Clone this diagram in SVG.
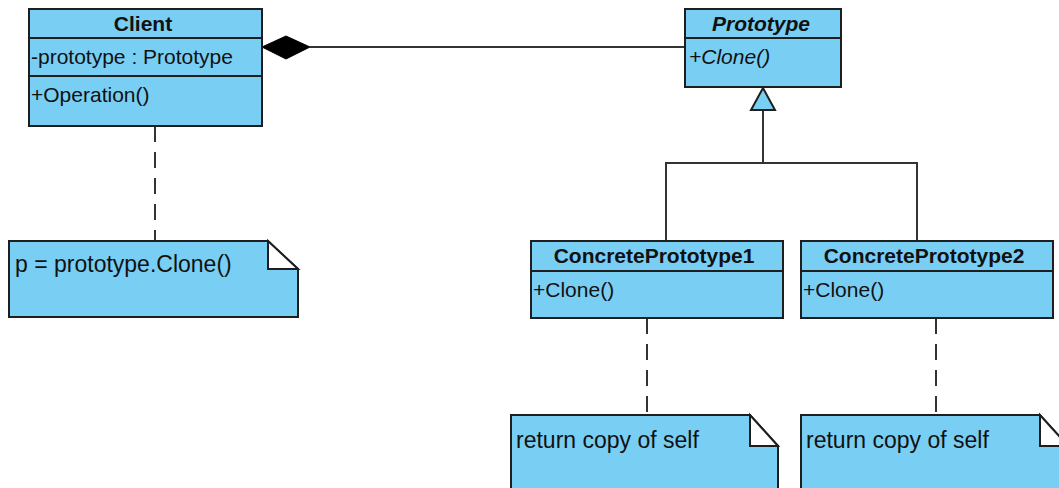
<svg xmlns="http://www.w3.org/2000/svg" width="1059" height="488" viewBox="0 0 1059 488">
<style>
.box{fill:#79CEF4;stroke:#1e1e1e;stroke-width:2}
.fold{fill:#ffffff;stroke:#1e1e1e;stroke-width:2;stroke-linejoin:miter}
.sep{stroke:#1e1e1e;stroke-width:2}
.t{font-family:"Liberation Sans",Arial,sans-serif;font-size:21px;fill:#111}
.b{font-weight:bold}
.i{font-style:italic}
.n{font-family:"Liberation Sans",Arial,sans-serif;font-size:23px;fill:#111}
.line{fill:none;stroke:#333;stroke-width:2}
.dash{fill:none;stroke:#333;stroke-width:2;stroke-dasharray:16 10}
</style>
<rect width="1059" height="488" fill="#ffffff"/>
<g id="connectors">
  <line class="line" x1="310" y1="47" x2="685" y2="47"/>
  <polygon points="262,47 286,36 310,47 286,59" fill="#000" stroke="#000" stroke-width="1"/>
  <polyline class="line" points="763,110 763,163"/>
  <polyline class="line" points="666,241 666,163 917,163 917,241"/>
  <polygon points="763,88 751,110 775,110" fill="#79CEF4" stroke="#1e1e1e" stroke-width="2"/>
  <line class="dash" x1="155" y1="126" x2="155" y2="241"/>
  <line class="dash" x1="647" y1="318" x2="647" y2="415"/>
  <line class="dash" x1="936" y1="318" x2="936" y2="415"/>
</g>
<g id="client">
  <rect class="box" x="29" y="9" width="233" height="117"/>
  <line class="sep" x1="29" y1="38" x2="262" y2="38"/>
  <line class="sep" x1="29" y1="76" x2="262" y2="76"/>
  <text class="t b" x="143" y="31" text-anchor="middle">Client</text>
  <text class="t" x="31" y="64">-prototype : Prototype</text>
  <text class="t" x="31" y="102">+Operation()</text>
</g>
<g id="prototype">
  <rect class="box" x="685" y="9" width="156" height="78"/>
  <line class="sep" x1="685" y1="38" x2="841" y2="38"/>
  <text class="t b i" x="761" y="31" text-anchor="middle">Prototype</text>
  <text class="t i" x="689" y="64">+Clone()</text>
</g>
<g id="concrete1">
  <rect class="box" x="531" y="241" width="252" height="77"/>
  <line class="sep" x1="531" y1="271" x2="783" y2="271"/>
  <text class="t b" x="654" y="263" text-anchor="middle">ConcretePrototype1</text>
  <text class="t" x="533" y="297">+Clone()</text>
</g>
<g id="concrete2">
  <rect class="box" x="801" y="241" width="252" height="77"/>
  <line class="sep" x1="801" y1="271" x2="1053" y2="271"/>
  <text class="t b" x="924" y="263" text-anchor="middle">ConcretePrototype2</text>
  <text class="t" x="803" y="297">+Clone()</text>
</g>
<g id="note-client">
  <path class="box" d="M9,241 H268 L298,269 V317 H9 Z"/>
  <path class="fold" d="M268,241 V269 H298 Z"/>
  <text class="n" x="15" y="272">p = prototype.Clone()</text>
</g>
<g id="note-concrete1">
  <path class="box" d="M511,415 H750 L778,446 V500 H511 Z"/>
  <path class="fold" d="M750,415 V446 H778 Z"/>
  <text class="n" x="516" y="448">return copy of self</text>
</g>
<g id="note-concrete2">
  <path class="box" d="M801,415 H1040 L1068,446 V500 H801 Z"/>
  <path class="fold" d="M1040,415 V446 H1068 Z"/>
  <text class="n" x="806" y="448">return copy of self</text>
</g>
</svg>
